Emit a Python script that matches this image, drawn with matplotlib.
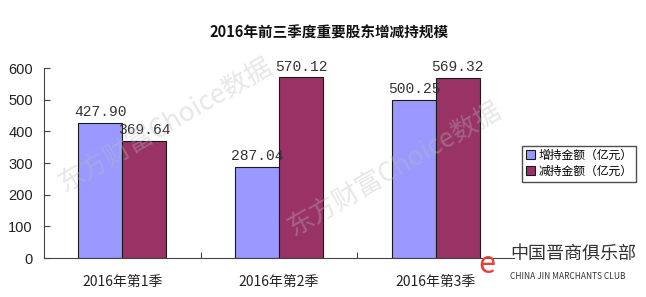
import matplotlib.pyplot as plt
import numpy as np

plt.rcParams['font.family'] = ['Noto Sans CJK SC', 'DejaVu Sans']

quarters = ['2016年第1季', '2016年第2季', '2016年第3季']
increase = [427.90, 287.04, 500.25]
decrease = [369.64, 570.12, 569.32]
series_names = ['增持金额（亿元）', '减持金额（亿元）']

fig = plt.figure(figsize=(6.46, 2.97), dpi=100)
ax = fig.add_axes([0.068, 0.131, 0.728, 0.640])

x = np.arange(len(quarters))
w = 0.28
b1 = ax.bar(x - w / 2, increase, w, color='#9999FF', edgecolor='#1a1a1a', linewidth=0.8, label=series_names[0])
b2 = ax.bar(x + w / 2, decrease, w, color='#993366', edgecolor='#1a1a1a', linewidth=0.8, label=series_names[1])

for bars, vals in [(b1, increase), (b2, decrease)]:
    for r, v in zip(bars, vals):
        ax.text(r.get_x() + r.get_width() / 2, v + 12, f'{v:.2f}', ha='center', va='bottom',
                fontsize=10.5, family=['Liberation Mono', 'DejaVu Sans Mono'], color='#333333')

ax.set_xlim(-0.5, 2.5)
ax.set_ylim(0, 600)
ax.set_yticks(range(0, 601, 100))
ax.set_xticks([0.5, 1.5])
ax.set_xticklabels([])
ax.set_xticks(x, minor=True)
ax.set_xticklabels(quarters, minor=True, fontsize=10, color='#222222')
ax.tick_params(axis='x', which='minor', length=0, pad=12)
ax.tick_params(axis='x', which='major', direction='in', length=4, color='#444444')
ax.tick_params(axis='y', direction='in', length=4, color='#444444', labelsize=10.5, labelcolor='#222222', pad=8)
for lab in ax.get_yticklabels():
    lab.set_family(['Liberation Sans', 'DejaVu Sans'])
for s in ['top', 'right']:
    ax.spines[s].set_visible(False)
for s in ['left', 'bottom']:
    ax.spines[s].set_color('#444444')

fig.text(0.51, 0.89, '2016年前三季度重要股东增减持规模', ha='center', va='center',
         fontsize=10.5, fontweight='bold', color='#111111')

fig.legend(loc='upper left', bbox_to_anchor=(0.808, 0.51), fontsize=8.5, frameon=True,
           fancybox=False, edgecolor='#222222', handlelength=0.8, handleheight=0.8,
           handletextpad=0.3, borderpad=0.3, labelspacing=0.25, borderaxespad=0)

# watermarks
fig.text(0.255, 0.58, '东方财富Choice数据', rotation=30, fontsize=19, color='#bbbbbb', alpha=0.35,
         ha='center', va='center')
fig.text(0.61, 0.43, '东方财富Choice数据', rotation=30, fontsize=19, color='#bbbbbb', alpha=0.35,
         ha='center', va='center')
fig.text(0.79, 0.145, '中国晋商俱乐部', fontsize=13, color='#333333', ha='left', va='center')
fig.text(0.79, 0.07, 'CHINA JIN MARCHANTS CLUB', fontsize=6, color='#333333', ha='left', va='center')
fig.text(0.74, 0.11, 'e', fontsize=22, color='#e8403a', style='italic', ha='left', va='center')

fig.savefig('out.png', dpi=100)
